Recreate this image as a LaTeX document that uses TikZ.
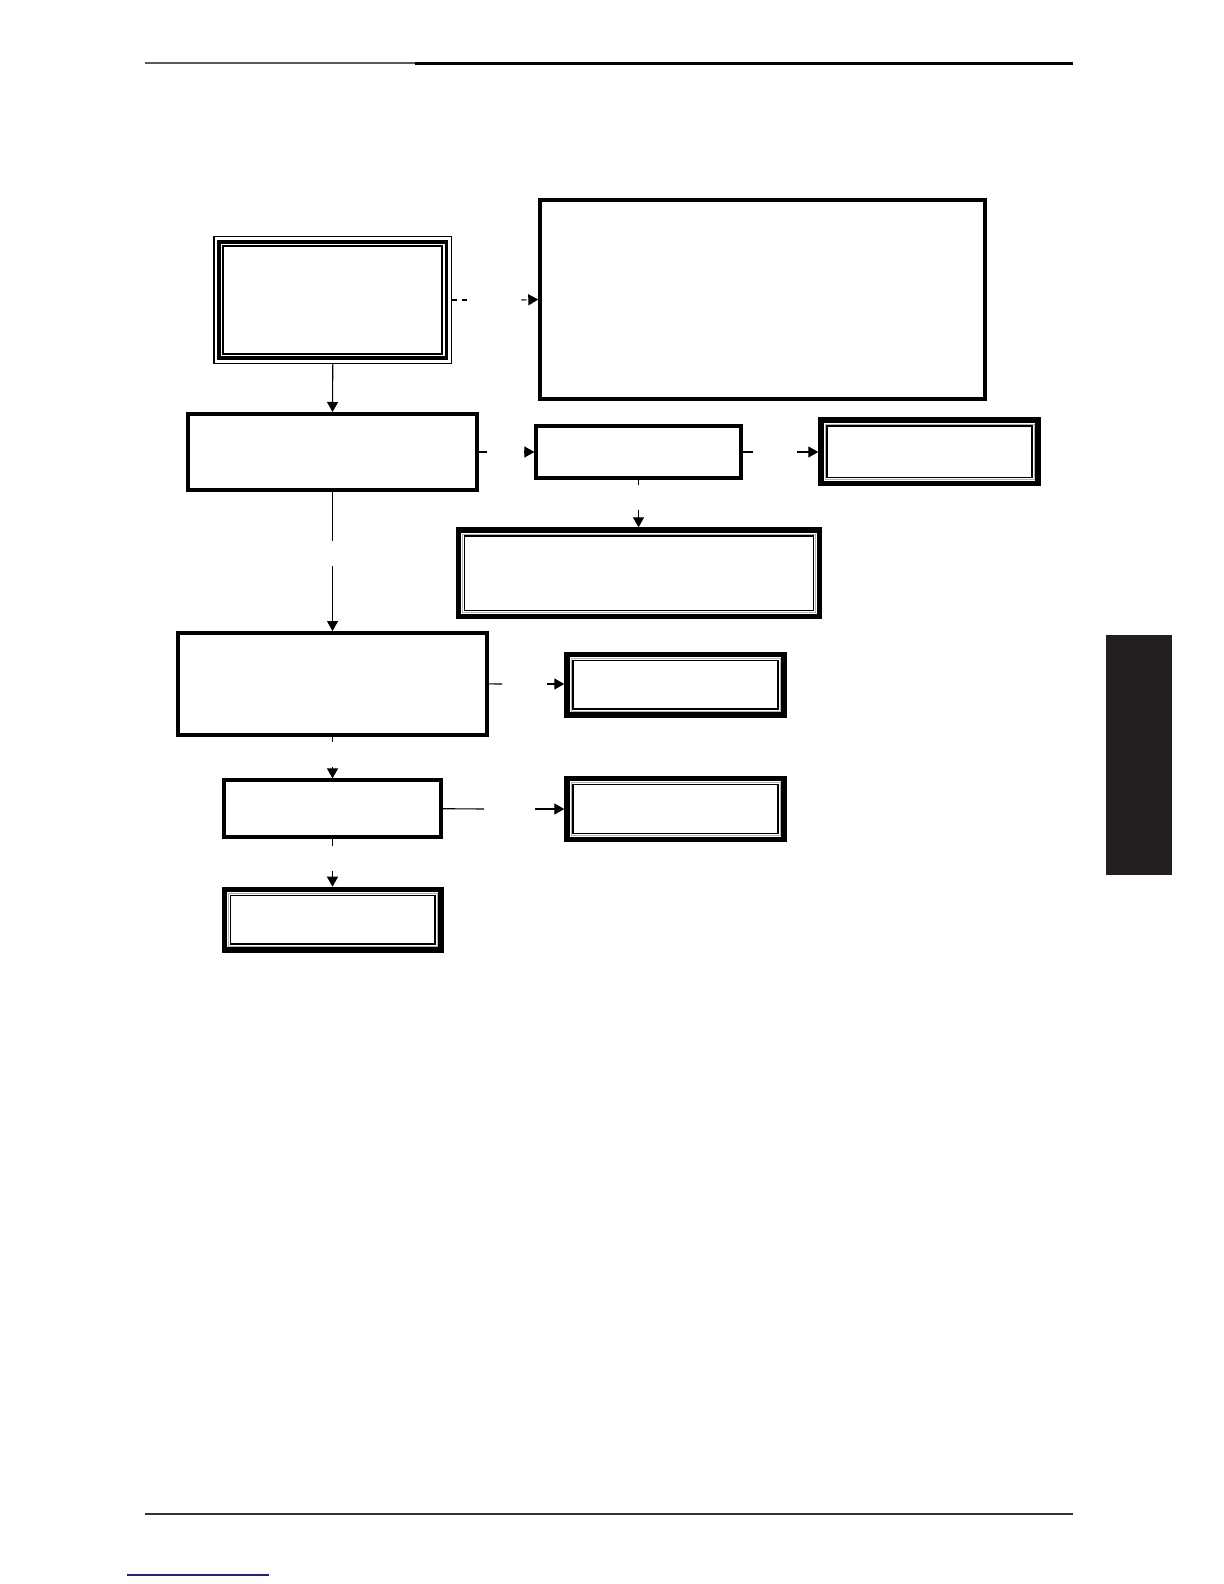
\documentclass[tikz,border=0pt]{standalone}
\usetikzlibrary{arrows.meta, positioning}
\definecolor{tabgray}{RGB}{35,31,32}
\definecolor{linkblue}{RGB}{30,30,140}
\tikzstyle{startbox} = [draw, line width=1.85pt, inner sep=0pt, outer sep=2.85pt]
\tikzstyle{flowbox} = [draw, line width=2pt, inner sep=0pt]
\tikzstyle{endbox} = [draw, line width=2.75pt, inner sep=0pt]
\tikzstyle{link} = [line width=0.55pt]
\tikzstyle{dashlink} = [link, dash pattern=on 2.5pt off 2.5pt]

\begin{document}
\begin{tikzpicture}[x=0.5pt, y=-0.5pt, >={Triangle[length=5pt,width=5.5pt]}]
	\useasboundingbox (0,0) rectangle (1224,1584);
	% page rules and tab
	\draw[black!65, line width=1pt] (145,63.5) -- (415,63.5);
	\draw[line width=1.1pt] (415,63.5) -- (1073,63.5);
	\draw[black!80, line width=1pt] (145,1514) -- (1073,1514);
	\draw[linkblue, line width=0.7pt] (127,1575) -- (269,1575);
	\fill[tabgray] (1106,635) rectangle (1172,875);

	% boxes
	\node[startbox, minimum width=113.8pt, minimum height=58.3pt] (start) at (332.8,300) {};
	\node[flowbox, minimum width=222.2pt, minimum height=99.2pt] (note) at (762.5,299.5) {};
	\node[flowbox, minimum width=144.5pt, minimum height=38pt] (proc) at (332.5,452) {};
	\node[flowbox, minimum width=102.1pt, minimum height=25.6pt] (check) at (638.5,452) {};
	\node[endbox, minimum width=108.45pt, minimum height=31.6pt] (ok) at (929.5,451.7) {};
	\node[endbox, minimum width=180.55pt, minimum height=43.1pt] (fix) at (639,573.2) {};
	\node[flowbox, minimum width=154.5pt, minimum height=50.85pt] (test) at (332.5,683.9) {};
	\node[endbox, minimum width=108.45pt, minimum height=30.25pt] (res1) at (675.5,684.7) {};
	\node[flowbox, minimum width=108.2pt, minimum height=28.35pt] (run) at (332.5,808.7) {};
	\node[endbox, minimum width=108.45pt, minimum height=30.55pt] (res2) at (675.5,809) {};
	\node[endbox, minimum width=108.25pt, minimum height=30.25pt] (done) at (332.7,919.7) {};

	% inner frames
	\draw[line width=0.65pt] ([shift={(0.65,0.65)}]start.north west) rectangle ([shift={(-0.65,-0.65)}]start.south east);
	\draw[line width=0.85pt] ([shift={(10,10)}]start.north west) rectangle ([shift={(-10,-10)}]start.south east);
	\foreach \n in {ok,fix,res1,res2,done} {
		\draw[gray!60, line width=0.35pt] ([shift={(6.7,6.7)}]\n.north west) rectangle ([shift={(-6.7,-6.7)}]\n.south east);
		\draw[line width=0.65pt] ([shift={(8.6,8.6)}]\n.north west) rectangle ([shift={(-8.6,-8.6)}]\n.south east);
	}

	% connector gaps
	\coordinate (g1a) at (468,300);   \coordinate (g1b) at (521.5,300);
	\coordinate (g2a) at (487,452);   \coordinate (g2b) at (524,452);
	\coordinate (g3a) at (753,452);   \coordinate (g3b) at (797,452);
	\coordinate (g4a) at (638.5,484.5); \coordinate (g4b) at (638.5,510);
	\coordinate (g5a) at (332.5,541); \coordinate (g5b) at (332.5,566);
	\coordinate (g6a) at (502,684);   \coordinate (g6b) at (547,684);
	\coordinate (g7a) at (332.5,742); \coordinate (g7b) at (332.5,767);
	\coordinate (g8a) at (484,809);   \coordinate (g8b) at (535,809);
	\coordinate (g9a) at (332.5,846); \coordinate (g9b) at (332.5,871);

	% connectors
	\draw[link,->] (start.south) -- (proc.north);
	\draw[dashlink] (start.east) -- (g1a);
	\draw[dashlink,->] (g1b) -- (note.west);
	\draw[link] (proc.east) -- (g2a);
	\draw[link,->] (g2b) -- (check.west);
	\draw[link] (check.east) -- (g3a);
	\draw[link,->] (g3b) -- (g3b -| ok.west);
	\draw[link] (check.south) -- (g4a);
	\draw[link,->] (g4b) -- (g4b |- fix.north);
	\draw[link] (proc.south) -- (g5a);
	\draw[link,->] (g5b) -- (test.north);
	\draw[link] (test.east) -- (g6a);
	\draw[link,->] (g6b) -- (g6b -| res1.west);
	\draw[link] (test.south) -- (g7a);
	\draw[link,->] (g7b) -- (run.north);
	\draw[link] (run.east) -- (g8a);
	\draw[link,->] (g8b) -- (g8b -| res2.west);
	\draw[link] (run.south) -- (g9a);
	\draw[link,->] (g9b) -- (g9b |- done.north);
\end{tikzpicture}
\end{document}
